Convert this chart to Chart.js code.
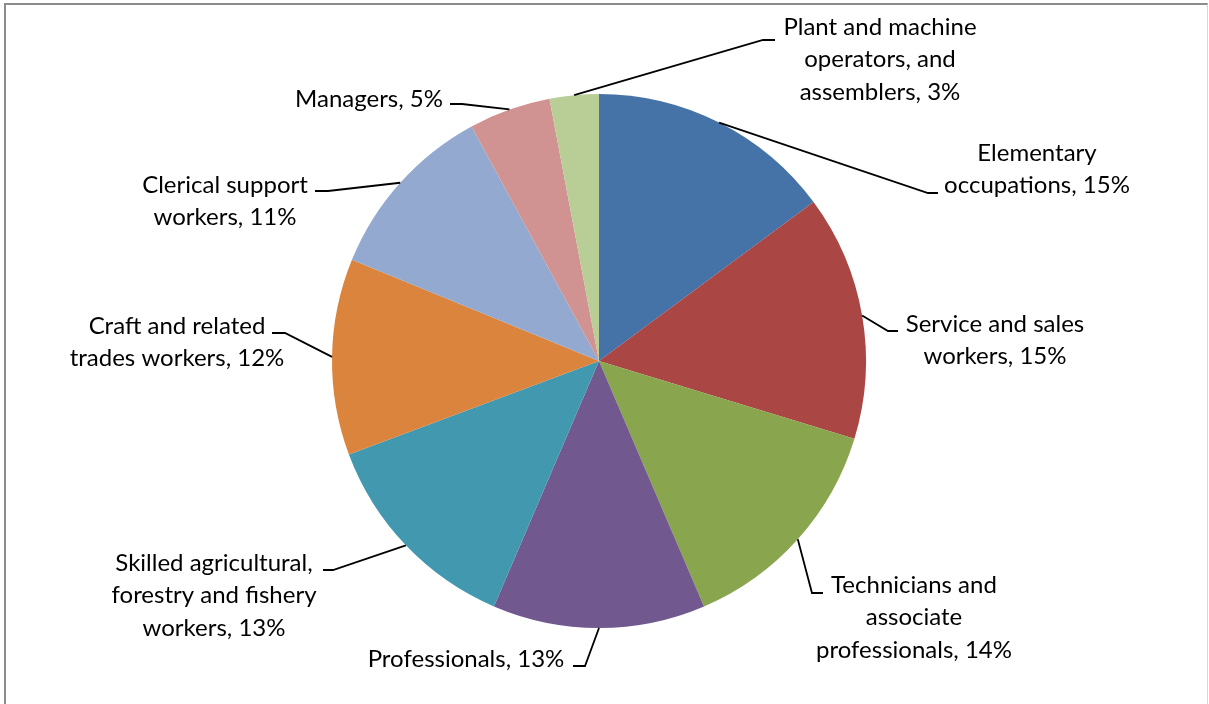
<!DOCTYPE html>
<html>
<head>
<meta charset="utf-8">
<title>Employment by occupation</title>
<script src="https://cdn.jsdelivr.net/npm/chart.js@4.4.1/dist/chart.umd.min.js"></script>
<style>
  html, body { margin: 0; padding: 0; background: #fff; overflow: hidden; }
  #wrap { position: relative; width: 1209px; height: 704px; }
  #caption {
    position: absolute; left: 6px; top: -22px; line-height: 21px;
    font: bold 18px Lato, sans-serif; color: #4f81bd; white-space: nowrap;
  }
  #frame {
    position: absolute; left: 4px; top: 3px; width: 1201px; height: 720px;
    border-left: 2px solid #8c8c8c; border-top: 2px solid #8c8c8c; border-right: 1px solid #d6d6d6;
  }
  #pie { position: absolute; left: 0; top: 0; }
</style>
</head>
<body>
<div id="wrap">
  <div id="caption">Figure 5: Share of occupational group (%) by region</div>
  <div id="frame"></div>
  <canvas id="pie" width="1209" height="704"></canvas>
</div>
<script>
const categories = [
  'Elementary occupations',
  'Service and sales workers',
  'Technicians and associate professionals',
  'Professionals',
  'Skilled agricultural, forestry and fishery workers',
  'Craft and related trades workers',
  'Clerical support workers',
  'Managers',
  'Plant and machine operators, and assemblers'
];
const shares = [15, 15, 14, 13, 13, 12, 11, 5, 3];
const colors = ['#4572a7', '#aa4643', '#89a54e', '#71588f', '#4198af', '#db843d', '#93a9cf', '#d19392', '#b9cd96'];

// label boxes: words per line, text centre x, first line y, leader elbow and end
const labelLayout = [
  { words: [1, 2],    x: 1037, y: 153, elbow: [928, 193], end: [938, 193] },
  { words: [3, 2],    x: 995,  y: 324, elbow: [888, 331], end: [898, 331] },
  { words: [2, 1, 2], x: 914,  y: 585, elbow: [812, 593], end: [823, 593] },
  { words: [2],       x: 466,  y: 659, elbow: [585, 666], end: [573, 666] },
  { words: [2, 3, 2], x: 214,  y: 563, elbow: [333, 570], end: [323, 570] },
  { words: [3, 3],    x: 177,  y: 326, elbow: [285, 333], end: [272, 333] },
  { words: [2, 2],    x: 225,  y: 185, elbow: [328, 191], end: [315, 191] },
  { words: [2],       x: 369,  y: 99,  elbow: [462, 104], end: [450, 104] },
  { words: [3, 2, 2], x: 880,  y: 27,  elbow: [763, 40],  end: [775, 40] }
];
const lineHeight = 32.5;

function splitLines(text, counts) {
  const words = text.split(' ');
  const lines = [];
  let i = 0;
  counts.forEach(n => {
    lines.push(words.slice(i, i + n).join(' '));
    i += n;
  });
  return lines;
}

const leaderLabels = {
  id: 'leaderLabels',
  afterDatasetsDraw(chart) {
    const ctx = chart.ctx;
    const arcs = chart.getDatasetMeta(0).data;
    ctx.save();
    arcs.forEach((arc, i) => {
      const lay = labelLayout[i];
      const p = arc.getProps(['x', 'y', 'startAngle', 'endAngle', 'outerRadius'], true);
      const mid = (p.startAngle + p.endAngle) / 2;
      const ax = p.x + Math.cos(mid) * p.outerRadius;
      const ay = p.y + Math.sin(mid) * p.outerRadius;

      ctx.strokeStyle = '#000';
      ctx.lineWidth = 1.8;
      ctx.beginPath();
      ctx.moveTo(ax, ay);
      ctx.lineTo(lay.elbow[0], lay.elbow[1]);
      ctx.lineTo(lay.end[0], lay.end[1]);
      ctx.stroke();

      const text = categories[i] + ', ' + shares[i] + '%';
      ctx.fillStyle = '#000';
      ctx.font = '24px Lato';
      ctx.textAlign = 'center';
      ctx.textBaseline = 'middle';
      splitLines(text, lay.words).forEach((line, k) => {
        ctx.fillText(line, lay.x, lay.y + k * lineHeight);
      });
    });
    ctx.restore();
  }
};

const ctx = document.getElementById('pie').getContext('2d');
const chart = new Chart(ctx, {
  type: 'pie',
  data: {
    labels: categories,
    datasets: [{
      data: shares,
      backgroundColor: colors,
      borderWidth: 0
    }]
  },
  options: {
    responsive: false,
    animation: false,
    layout: {
      padding: { top: 94, bottom: 76, left: 332, right: 343 }
    },
    plugins: {
      legend: { display: false },
      tooltip: { enabled: false }
    }
  },
  plugins: [leaderLabels]
});
</script>
</body>
</html>
